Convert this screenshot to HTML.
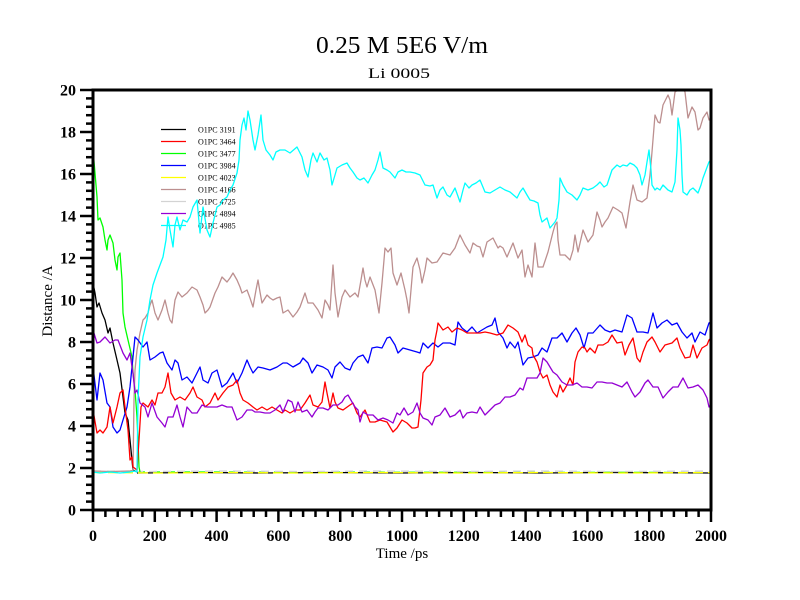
<!DOCTYPE html>
<html><head><meta charset="utf-8"><style>
html,body{margin:0;padding:0;background:#fff;}
svg{display:block;}
text{font-family:"Liberation Serif","DejaVu Serif",serif;fill:#000;}
.tk{font-weight:bold;font-size:16px;}
.lg{font-size:8px;}
polyline{fill:none;stroke-width:1.3;stroke-linejoin:round;}
</style></head><body>
<svg width="800" height="600" viewBox="0 0 800 600" xmlns="http://www.w3.org/2000/svg">
<rect width="800" height="600" fill="#fff"/>
<text x="402" y="53" font-size="24" text-anchor="middle" textLength="172" lengthAdjust="spacingAndGlyphs">0.25 M 5E6 V/m</text>
<text x="399" y="78" font-size="15" text-anchor="middle" textLength="62" lengthAdjust="spacingAndGlyphs">Li 0005</text>

<!-- legend -->
<g stroke-width="1.2">
<line x1="161" y1="129.5" x2="186" y2="129.5" stroke="#000"/>
<line x1="161" y1="141.5" x2="186" y2="141.5" stroke="#f00"/>
<line x1="161" y1="153.5" x2="186" y2="153.5" stroke="#0f0"/>
<line x1="161" y1="165.5" x2="186" y2="165.5" stroke="#00f"/>
<line x1="161" y1="177.5" x2="186" y2="177.5" stroke="#ff0"/>
<line x1="161" y1="189.5" x2="186" y2="189.5" stroke="#bc8f8f"/>
<line x1="161" y1="201.5" x2="186" y2="201.5" stroke="#d3d3d3"/>
<line x1="161" y1="213.5" x2="186" y2="213.5" stroke="#9400d3"/>
<line x1="161" y1="225.5" x2="186" y2="225.5" stroke="#0ff"/>
</g>
<g class="lg">
<text x="198" y="132.5">O1PC 3191</text>
<text x="198" y="144.5">O1PC 3464</text>
<text x="198" y="156.5">O1PC 3477</text>
<text x="198" y="168.5">O1PC 3984</text>
<text x="198" y="180.5">O1PC 4023</text>
<text x="198" y="192.5">O1PC 4166</text>
<text x="198" y="204.5">O1PC 4725</text>
<text x="198" y="216.5">O1PC 4894</text>
<text x="198" y="228.5">O1PC 4985</text>
</g>

<defs><clipPath id="pc"><rect x="93" y="90" width="618" height="420"/></clipPath></defs>
<g clip-path="url(#pc)">
<!-- baseline lines ~1.8 -->
<polyline stroke="#000" points="137,473 200,472.5 260,473 330,472.5 400,473 470,472.5 540,473 610,472.5 711,473"/>
<polyline stroke="#0f0" stroke-dasharray="6 9" points="139,472 711,472.5"/>
<polyline stroke="#ff0" stroke-dasharray="10 5" points="93,472.5 160,473 230,472.5 300,473 380,472.5 460,473 540,472.5 620,473 711,472.5"/>
<polyline stroke="#d3d3d3" stroke-dasharray="8 6" points="93,471 150,471.5 220,471 300,471.5 380,471 460,471.5 540,471 620,471.5 711,471"/>

<!-- black 3191 -->
<polyline stroke="#000" points="93,283 95,293 97,307 99,303 102,313 105,320 108,333 110,328 113,343 117,360 120,373 123,397 125,413 128,420 130,440 132,460 133,470 137,472"/>
<!-- green 3477 -->
<polyline stroke="#0f0" points="93,150 95,173 97,197 98,220 100,218 103,227 105,240 107,250 108,240 110,235 113,243 115,260 117,270 118,257 120,253 122,280 123,313 125,327 128,340 132,357 133,373 135,390 137,417 138,440 139,467 140,472"/>
<!-- brown 4166 -->
<polyline stroke="#bc8f8f" points="93,471 110,471.5 130,471 133,470 134,400 135,370 137,350 140,333 143,320 145,318 148,313 150,305 152,300 155,313 158,320 162,310 165,300 168,313 170,320 172,323 175,300 178,292 182,297 187,293 192,287 197,290 200,297 203,305 205,313 208,310 210,307 215,293 218,287 222,277 227,282 230,278 233,273 237,280 240,287 242,293 247,290 250,298 253,307 256,290 258,280 260,292 262,303 267,295 270,298 273,300 277,298 280,297 283,313 288,310 293,317 297,312 300,307 305,293 308,303 313,303 318,310 322,318 325,300 328,305 330,310 332,280 333,265 335,293 338,317 342,297 345,290 350,297 355,293 358,297 361,280 363,268 365,280 367,287 370,277 375,290 379,313 382,283 384,260 385,248 388,252 391,248 393,273 397,285 401,273 405,290 407,300 409,313 411,290 413,267 417,258 420,270 422,283 425,270 427,258 432,263 437,262 443,253 450,255 455,248 460,235 465,245 470,253 473,243 477,246 480,247 483,257 487,242 493,238 498,248 500,246 503,248 507,257 510,250 513,243 518,258 522,250 525,277 528,265 532,277 535,243 538,267 543,267 548,252 553,232 555,225 557,222 558,240 560,255 565,255 570,260 573,250 575,235 578,252 583,230 588,242 593,235 597,212 600,220 602,227 605,222 608,218 613,207 618,210 622,213 626,228 628,215 630,202 633,185 637,200 642,202 647,198 650,175 652,152 655,115 658,122 660,123 663,105 668,95 670,100 672,115 675,92 678,90 682,88 685,92 688,118 692,107 695,112 698,130 700,128 703,118 707,112 709,120 711,118"/>
<!-- blue 3984 -->
<polyline stroke="#00f" points="93,367 97,400 100,373 103,380 107,403 110,407 113,427 117,433 120,430 123,420 127,407 130,387 133,357 135,337 138,340 143,347 147,342 150,360 155,357 160,353 163,352 167,363 172,370 175,360 178,363 182,380 187,377 192,383 197,373 200,367 203,380 208,383 212,373 217,370 222,387 227,383 233,373 237,383 242,373 247,360 250,367 253,373 258,367 263,368 270,370 277,367 283,363 287,363 293,367 300,363 303,358 308,363 312,373 317,365 323,367 328,370 332,378 335,367 340,362 345,368 350,370 353,363 358,357 363,355 368,363 372,348 377,347 382,348 387,338 390,337 395,345 398,353 403,348 410,350 417,352 420,353 423,343 428,348 433,343 438,347 443,343 450,343 455,345 458,322 462,328 467,332 472,327 477,333 482,330 487,327 492,325 495,318 498,332 503,338 507,348 510,342 515,348 518,342 523,365 528,358 533,357 538,355 542,348 547,352 552,338 557,338 562,333 567,342 572,333 576,328 580,335 584,348 588,333 593,333 600,325 605,330 610,332 615,330 622,332 627,315 632,318 637,332 643,332 648,333 653,313 657,328 662,323 667,320 672,325 677,323 682,332 687,338 692,333 695,342 700,332 705,335 709,323 711,322"/>
<!-- red 3464 -->
<polyline stroke="#f00" points="93,410 97,433 100,430 103,433 107,427 110,407 113,423 117,407 120,393 123,390 125,407 128,430 130,460 132,457 133,467 137,470 139,440 141,407 143,403 148,407 152,400 155,405 158,393 162,393 165,387 168,373 171,393 175,400 180,397 185,400 190,393 193,387 197,397 202,400 205,407 210,403 215,393 218,400 223,393 228,387 233,385 237,380 240,393 243,400 248,403 253,407 257,410 262,407 267,410 272,407 277,410 282,413 285,410 290,413 295,410 300,410 305,403 310,395 313,405 318,407 322,402 325,382 327,393 330,408 333,393 335,402 338,408 343,410 350,405 353,403 357,413 360,417 365,410 370,422 375,422 380,420 387,422 393,432 397,428 402,420 407,423 412,428 415,428 418,427 421,400 423,373 427,367 430,365 433,360 435,340 437,330 438,323 443,330 448,327 452,332 457,328 462,330 467,333 473,333 480,333 485,332 490,333 497,335 503,333 508,325 513,328 518,332 522,342 525,335 528,345 532,348 533,355 537,362 540,372 543,378 547,375 550,385 553,392 557,397 560,385 563,392 567,385 570,378 573,385 575,362 578,352 582,347 585,348 587,352 590,348 595,353 598,345 603,345 608,342 612,335 617,343 622,342 625,355 629,345 633,338 637,358 640,362 643,352 647,342 652,337 655,342 660,352 665,345 672,343 677,338 680,348 685,358 690,357 693,345 697,358 702,348 707,345 709,340 711,338"/>
<!-- purple 4894 -->
<polyline stroke="#9400d3" points="93,330 97,343 100,342 105,337 110,343 115,340 118,340 123,353 127,360 130,353 132,367 133,373 135,393 137,390 140,403 145,407 148,417 152,403 157,417 162,423 165,427 168,417 173,417 177,405 180,417 183,427 187,407 192,413 197,413 202,405 207,407 212,407 217,407 222,405 227,407 232,407 237,420 242,417 247,410 252,410 255,412 260,412 265,413 270,413 275,410 280,405 283,412 288,400 292,402 295,412 298,402 302,412 307,410 312,417 315,412 318,408 323,408 328,410 333,405 338,405 342,402 345,397 348,395 352,402 355,407 358,410 360,422 363,412 368,415 373,415 378,420 383,418 388,420 393,423 397,413 400,415 404,408 408,415 413,412 417,403 420,413 423,418 428,420 432,425 435,417 440,415 445,408 450,417 455,415 460,410 463,418 467,413 472,412 477,413 480,407 485,415 490,410 495,405 500,403 505,397 510,397 515,395 520,388 523,390 527,378 532,378 537,378 540,373 543,358 547,362 550,367 553,372 557,375 562,382 567,385 572,385 577,383 582,387 587,387 592,388 597,382 602,382 607,383 612,383 617,385 622,387 627,382 632,392 635,397 640,392 645,383 648,380 653,387 658,387 663,398 668,392 673,387 678,387 683,378 688,388 693,387 698,385 703,390 707,398 709,407 711,405"/>
<!-- cyan 4985 -->
<polyline stroke="#0ff" points="93,472 100,473 110,472 120,473 130,472 135,471 137,472 138,400 140,357 143,337 147,320 150,300 153,285 157,273 160,265 163,257 166,240 168,217 170,230 173,247 175,225 177,217 180,230 183,220 187,222 190,217 193,207 197,200 200,233 203,207 207,230 210,237 213,223 217,207 220,205 223,200 227,197 230,190 233,185 237,173 239,160 240,140 242,125 244,118 246,130 248,111 250,120 253,140 255,150 258,135 261,115 263,140 266,150 270,155 273,160 276,152 280,150 285,150 290,153 297,147 302,157 305,170 308,177 311,160 313,153 317,162 320,153 324,160 327,158 330,170 332,185 335,175 337,168 342,165 347,163 350,168 353,172 357,178 360,180 364,178 368,183 372,175 375,170 378,160 380,152 383,168 387,170 390,172 395,178 398,172 402,170 406,172 410,172 415,173 420,175 425,185 430,186 433,185 437,198 440,190 443,187 447,195 450,197 455,188 460,202 463,190 465,183 469,188 472,185 476,183 480,180 485,192 490,193 495,190 500,187 505,190 510,192 517,198 520,192 523,188 527,195 530,200 534,201 538,203 540,215 542,222 547,218 550,228 555,222 557,218 559,200 560,178 563,185 567,192 572,195 577,200 580,195 583,188 588,190 593,188 597,185 600,182 604,187 607,185 612,170 617,165 620,167 623,165 627,166 630,163 634,165 637,168 640,175 642,185 645,175 647,162 649,150 651,170 652,185 655,190 657,188 660,190 663,185 668,190 672,192 675,182 677,150 678,118 680,130 681,145 682,175 683,192 687,195 690,190 693,188 698,193 701,185 703,178 706,170 709,162 711,160"/>
</g>

<!-- frame -->
<rect x="93" y="90" width="618" height="420" fill="none" stroke="#000" stroke-width="3"/>

<!-- y ticks -->
<g stroke="#000" stroke-width="2.5">
<line x1="80" y1="510" x2="93" y2="510"/><line x1="86" y1="501.6" x2="93" y2="501.6"/><line x1="86" y1="493.2" x2="93" y2="493.2"/><line x1="86" y1="484.8" x2="93" y2="484.8"/><line x1="86" y1="476.4" x2="93" y2="476.4"/>
<line x1="80" y1="468" x2="93" y2="468"/><line x1="86" y1="459.6" x2="93" y2="459.6"/><line x1="86" y1="451.2" x2="93" y2="451.2"/><line x1="86" y1="442.8" x2="93" y2="442.8"/><line x1="86" y1="434.4" x2="93" y2="434.4"/>
<line x1="80" y1="426" x2="93" y2="426"/><line x1="86" y1="417.6" x2="93" y2="417.6"/><line x1="86" y1="409.2" x2="93" y2="409.2"/><line x1="86" y1="400.8" x2="93" y2="400.8"/><line x1="86" y1="392.4" x2="93" y2="392.4"/>
<line x1="80" y1="384" x2="93" y2="384"/><line x1="86" y1="375.6" x2="93" y2="375.6"/><line x1="86" y1="367.2" x2="93" y2="367.2"/><line x1="86" y1="358.8" x2="93" y2="358.8"/><line x1="86" y1="350.4" x2="93" y2="350.4"/>
<line x1="80" y1="342" x2="93" y2="342"/><line x1="86" y1="333.6" x2="93" y2="333.6"/><line x1="86" y1="325.2" x2="93" y2="325.2"/><line x1="86" y1="316.8" x2="93" y2="316.8"/><line x1="86" y1="308.4" x2="93" y2="308.4"/>
<line x1="80" y1="300" x2="93" y2="300"/><line x1="86" y1="291.6" x2="93" y2="291.6"/><line x1="86" y1="283.2" x2="93" y2="283.2"/><line x1="86" y1="274.8" x2="93" y2="274.8"/><line x1="86" y1="266.4" x2="93" y2="266.4"/>
<line x1="80" y1="258" x2="93" y2="258"/><line x1="86" y1="249.6" x2="93" y2="249.6"/><line x1="86" y1="241.2" x2="93" y2="241.2"/><line x1="86" y1="232.8" x2="93" y2="232.8"/><line x1="86" y1="224.4" x2="93" y2="224.4"/>
<line x1="80" y1="216" x2="93" y2="216"/><line x1="86" y1="207.6" x2="93" y2="207.6"/><line x1="86" y1="199.2" x2="93" y2="199.2"/><line x1="86" y1="190.8" x2="93" y2="190.8"/><line x1="86" y1="182.4" x2="93" y2="182.4"/>
<line x1="80" y1="174" x2="93" y2="174"/><line x1="86" y1="165.6" x2="93" y2="165.6"/><line x1="86" y1="157.2" x2="93" y2="157.2"/><line x1="86" y1="148.8" x2="93" y2="148.8"/><line x1="86" y1="140.4" x2="93" y2="140.4"/>
<line x1="80" y1="132" x2="93" y2="132"/><line x1="86" y1="123.6" x2="93" y2="123.6"/><line x1="86" y1="115.2" x2="93" y2="115.2"/><line x1="86" y1="106.8" x2="93" y2="106.8"/><line x1="86" y1="98.4" x2="93" y2="98.4"/>
<line x1="80" y1="90" x2="93" y2="90"/>
</g>
<!-- x ticks -->
<g stroke="#000" stroke-width="2.5">
<line x1="93" y1="510" x2="93" y2="522"/><line x1="105.4" y1="510" x2="105.4" y2="517"/><line x1="117.7" y1="510" x2="117.7" y2="517"/><line x1="130.1" y1="510" x2="130.1" y2="517"/><line x1="142.4" y1="510" x2="142.4" y2="517"/>
<line x1="154.8" y1="510" x2="154.8" y2="522"/><line x1="167.2" y1="510" x2="167.2" y2="517"/><line x1="179.5" y1="510" x2="179.5" y2="517"/><line x1="191.9" y1="510" x2="191.9" y2="517"/><line x1="204.2" y1="510" x2="204.2" y2="517"/>
<line x1="216.6" y1="510" x2="216.6" y2="522"/><line x1="229" y1="510" x2="229" y2="517"/><line x1="241.3" y1="510" x2="241.3" y2="517"/><line x1="253.7" y1="510" x2="253.7" y2="517"/><line x1="266" y1="510" x2="266" y2="517"/>
<line x1="278.4" y1="510" x2="278.4" y2="522"/><line x1="290.8" y1="510" x2="290.8" y2="517"/><line x1="303.1" y1="510" x2="303.1" y2="517"/><line x1="315.5" y1="510" x2="315.5" y2="517"/><line x1="327.8" y1="510" x2="327.8" y2="517"/>
<line x1="340.2" y1="510" x2="340.2" y2="522"/><line x1="352.6" y1="510" x2="352.6" y2="517"/><line x1="364.9" y1="510" x2="364.9" y2="517"/><line x1="377.3" y1="510" x2="377.3" y2="517"/><line x1="389.6" y1="510" x2="389.6" y2="517"/>
<line x1="402" y1="510" x2="402" y2="522"/><line x1="414.4" y1="510" x2="414.4" y2="517"/><line x1="426.7" y1="510" x2="426.7" y2="517"/><line x1="439.1" y1="510" x2="439.1" y2="517"/><line x1="451.4" y1="510" x2="451.4" y2="517"/>
<line x1="463.8" y1="510" x2="463.8" y2="522"/><line x1="476.2" y1="510" x2="476.2" y2="517"/><line x1="488.5" y1="510" x2="488.5" y2="517"/><line x1="500.9" y1="510" x2="500.9" y2="517"/><line x1="513.2" y1="510" x2="513.2" y2="517"/>
<line x1="525.6" y1="510" x2="525.6" y2="522"/><line x1="538" y1="510" x2="538" y2="517"/><line x1="550.3" y1="510" x2="550.3" y2="517"/><line x1="562.7" y1="510" x2="562.7" y2="517"/><line x1="575" y1="510" x2="575" y2="517"/>
<line x1="587.4" y1="510" x2="587.4" y2="522"/><line x1="599.8" y1="510" x2="599.8" y2="517"/><line x1="612.1" y1="510" x2="612.1" y2="517"/><line x1="624.5" y1="510" x2="624.5" y2="517"/><line x1="636.8" y1="510" x2="636.8" y2="517"/>
<line x1="649.2" y1="510" x2="649.2" y2="522"/><line x1="661.6" y1="510" x2="661.6" y2="517"/><line x1="673.9" y1="510" x2="673.9" y2="517"/><line x1="686.3" y1="510" x2="686.3" y2="517"/><line x1="698.6" y1="510" x2="698.6" y2="517"/>
<line x1="711" y1="510" x2="711" y2="522"/>
</g>

<!-- y tick labels -->
<g class="tk" text-anchor="end">
<text x="76" y="515.5">0</text>
<text x="76" y="473.5">2</text>
<text x="76" y="431.5">4</text>
<text x="76" y="389.5">6</text>
<text x="76" y="347.5">8</text>
<text x="76" y="305.5">10</text>
<text x="76" y="263.5">12</text>
<text x="76" y="221.5">14</text>
<text x="76" y="179.5">16</text>
<text x="76" y="137.5">18</text>
<text x="76" y="95.5">20</text>
</g>
<!-- x tick labels -->
<g class="tk" text-anchor="middle">
<text x="93" y="541">0</text>
<text x="154.8" y="541">200</text>
<text x="216.6" y="541">400</text>
<text x="278.4" y="541">600</text>
<text x="340.2" y="541">800</text>
<text x="402" y="541">1000</text>
<text x="463.8" y="541">1200</text>
<text x="525.6" y="541">1400</text>
<text x="587.4" y="541">1600</text>
<text x="649.2" y="541">1800</text>
<text x="711" y="541">2000</text>
</g>

<text x="402" y="558" font-size="15" text-anchor="middle">Time /ps</text>
<text x="0" y="0" font-size="15" text-anchor="middle" transform="translate(52,301) rotate(-90)">Distance /A</text>
</svg>
</body></html>
